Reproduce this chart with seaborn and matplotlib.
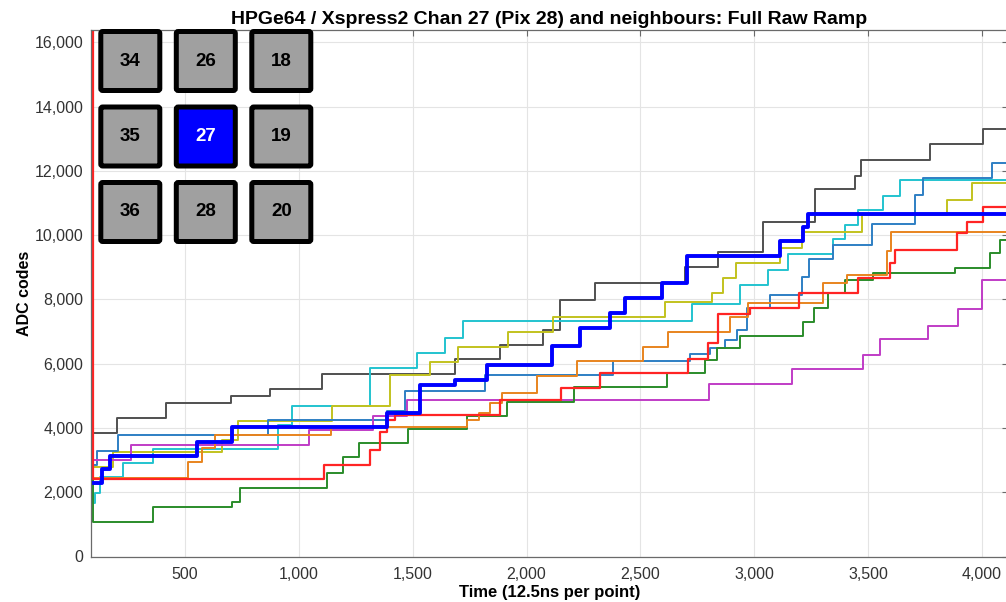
import matplotlib
matplotlib.use("Agg")
import matplotlib.pyplot as plt
from matplotlib.patches import FancyBboxPatch
from matplotlib.ticker import FuncFormatter, MultipleLocator
import seaborn as sns

# ---------------------------------------------------------------------------
# Raw ramp data: sample index where each step settles, and the ADC level held
# from that sample onwards.  The first point of most traces is the reset
# (ramp starts at full scale, 16383, then drops to the baseline).
# ---------------------------------------------------------------------------
t_grey = [88, 94, 200, 416, 701, 875, 1100, 1686, 1883, 2074, 2147, 2300, 2696,
          2842, 3040, 3266, 3440, 3470, 3771, 4003]
adc_grey = [16383, 3840, 4320, 4785, 4990, 5220, 5670, 6134, 6578, 7045, 7978,
            8520, 9015, 9481, 10414, 11421, 11850, 12354, 12852, 13288]

t_cyan = [88, 94, 105, 126, 229, 361, 910, 968, 1312, 1517, 1642, 1722, 2725,
          2937, 3062, 3149, 3347, 3398, 3457, 3567, 3640]
adc_cyan = [16383, 1650, 1966, 2463, 2918, 3350, 4100, 4670, 5854, 6320, 6806,
            7320, 7850, 8445, 8911, 9409, 9866, 10311, 10778, 11213, 11720]

t_olive = [88, 94, 185, 661, 734, 1144, 1400, 1576, 1700, 1920, 2118, 2608,
           2813, 2864, 2920, 3113, 3208, 3472, 3845, 3955]
adc_olive = [16383, 2793, 3240, 3624, 4224, 4690, 5646, 6060, 6527, 6992, 7440,
             7925, 8186, 8653, 9120, 9586, 10103, 10622, 11089, 11608]

t_steel = [88, 94, 113, 207, 864, 1386, 1466, 1817, 2381, 2718, 2806, 2871,
           2923, 2967, 3069, 3208, 3240, 3347, 3516, 3706, 3742, 4043]
adc_steel = [16383, 2846, 3291, 3779, 4246, 4535, 5140, 5646, 6075, 6290, 6476,
             6750, 7045, 7720, 8134, 8703, 9244, 9689, 10342, 11244, 11763, 12230]

t_magenta = [88, 94, 262, 1045, 1324, 1473, 2799, 3165, 3479, 3552, 3764,
             3896, 3999]
adc_magenta = [16383, 3002, 3468, 3935, 4375, 4868, 5366, 5822, 6268, 6756,
               7170, 7689, 8600]

t_green = [88, 94, 361, 705, 741, 1122, 1195, 1265, 1480, 1737, 1913, 2209,
           2615, 2784, 2835, 2935, 3215, 3260, 3325, 3398, 3523, 3881, 4035, 4079]
adc_green = [16383, 1083, 1530, 1705, 2140, 2588, 3095, 3530, 3975, 4370, 4815,
             5282, 5698, 6112, 6476, 6859, 7303, 7720, 8187, 8600, 8809, 8983,
             9449, 9844]

t_orange = [88, 94, 515, 573, 632, 1140, 1737, 1792, 1839, 1891, 2044, 2220,
            2513, 2622, 2893, 2974, 3303, 3406, 3581, 3600]
adc_orange = [16383, 2432, 2949, 3365, 3779, 4040, 4246, 4454, 4765, 5076, 5614,
              6091, 6527, 6992, 7459, 7875, 8517, 8756, 9500, 10103]

t_red = [88, 94, 1111, 1312, 1356, 1386, 1420, 1883, 2150, 2322, 2710, 2798,
         2842, 2981, 3194, 3457, 3596, 3618, 3889, 3932, 4005]
adc_red = [16383, 2401, 2846, 3313, 3882, 4246, 4401, 4868, 5232, 5698, 6134,
           6631, 7543, 7720, 8187, 8653, 9120, 9533, 10053, 10414, 10862]

# centre pixel (channel 27) - drawn thick on top
t_chan27 = [87, 135, 170, 551, 705, 1386, 1532, 1686, 1825, 2110, 2234, 2366,
            2432, 2593, 2706, 3113, 3215, 3236]
adc_chan27 = [2300, 2712, 3126, 3571, 4019, 4454, 5334, 5490, 5957, 6547, 7098,
              7575, 8031, 8497, 9347, 9823, 10258, 10665]

# 3x3 neighbourhood of Xspress2 channels around channel 27
neighbour_grid = [[34, 26, 18],
                  [35, 27, 19],
                  [36, 28, 20]]
centre_channel = 27

TITLE = "HPGe64 / Xspress2 Chan 27 (Pix 28) and neighbours: Full Raw Ramp"
X_LABEL = "Time (12.5ns per point)"
Y_LABEL = "ADC codes"
X_RANGE = (87, 4114)
Y_RANGE = (0, 16384)

# ---------------------------------------------------------------------------
sns.set_theme(style="white")
plt.rcParams["font.family"] = ["Liberation Sans", "DejaVu Sans"]

W, H = 1006, 602
fig = plt.figure(figsize=(W / 100, H / 100), dpi=100)
fig.patch.set_facecolor("white")

# axes box in pixel units (left, top, right, bottom)
ax_l, ax_t, ax_r, ax_b = 91, 30, 1008, 556.5
ax = fig.add_axes([ax_l / W, 1 - ax_b / H, (ax_r - ax_l) / W, (ax_b - ax_t) / H])

traces = [
    (t_grey, adc_grey, "#505050", 1.4),
    (t_cyan, adc_cyan, "#22C3CF", 1.4),
    (t_olive, adc_olive, "#C2C21E", 1.4),
    (t_steel, adc_steel, "#2E7FC4", 1.4),
    (t_magenta, adc_magenta, "#C03CC6", 1.4),
    (t_green, adc_green, "#2A8C2A", 1.4),
    (t_orange, adc_orange, "#E8841E", 1.4),
    (t_red, adc_red, "#FF2424", 1.6),
    (t_chan27, adc_chan27, "#0000FF", 2.8),
]

for t, v, colour, lw in traces:
    # hold the last level to the end of the record
    xs = list(t) + [X_RANGE[1] + 10]
    ys = list(v) + [v[-1]]
    sns.lineplot(x=xs, y=ys, ax=ax, color=colour, lw=lw, drawstyle="steps-post",
                 estimator=None, sort=False, legend=False)

ax.set_xlim(*X_RANGE)
ax.set_ylim(*Y_RANGE)
ax.xaxis.set_major_locator(MultipleLocator(500))
ax.yaxis.set_major_locator(MultipleLocator(2000))
comma = FuncFormatter(lambda v, _: f"{v:,.0f}")
ax.xaxis.set_major_formatter(comma)
ax.yaxis.set_major_formatter(comma)

ax.set_axisbelow(True)
ax.grid(True, color="#E4E4E4", lw=0.8)
for s in ax.spines.values():
    s.set_visible(True)
    s.set_color("#6A6A6A")
    s.set_linewidth(0.9)

ax.tick_params(axis="both", which="major", direction="in", length=4, width=0.8,
               color="#6A6A6A", top=True, right=True, labelsize=11.5,
               labelcolor="#333333")
ax.tick_params(axis="x", pad=7.5)
ax.tick_params(axis="y", pad=5.5)

ax.set_title(TITLE, fontsize=14, fontweight="bold", color="black", pad=4)
ax.set_xlabel(X_LABEL, fontsize=12, fontweight="bold", color="black", labelpad=2.5)
ax.set_ylabel(Y_LABEL, fontsize=11.5, fontweight="bold", color="black", labelpad=2)

# channel map overlay (pixel-unit overlay axes covering the figure)
ov = fig.add_axes([0, 0, 1, 1])
ov.set_xlim(0, W)
ov.set_ylim(H, 0)
ov.axis("off")
ov.patch.set_alpha(0)

origin_x, origin_y = 98.3, 29.0
pitch = 75.5
box = 64.0
border_px = 5.0
for r, row in enumerate(neighbour_grid):
    for c, chan in enumerate(row):
        x0 = origin_x + c * pitch + border_px / 2
        y0 = origin_y + r * pitch + border_px / 2
        size = box - border_px
        is_centre = chan == centre_channel
        face = "#0000FF" if is_centre else "#A0A0A0"
        ov.add_patch(FancyBboxPatch((x0, y0), size, size,
                                    boxstyle="round,pad=0,rounding_size=2",
                                    facecolor=face, edgecolor="black",
                                    lw=border_px * 0.72))
        ov.text(x0 + size / 2, y0 + size / 2, str(chan), ha="center", va="center",
                fontsize=13.5, fontweight="bold",
                color="white" if is_centre else "black")

fig.savefig("out.png", dpi=100)
